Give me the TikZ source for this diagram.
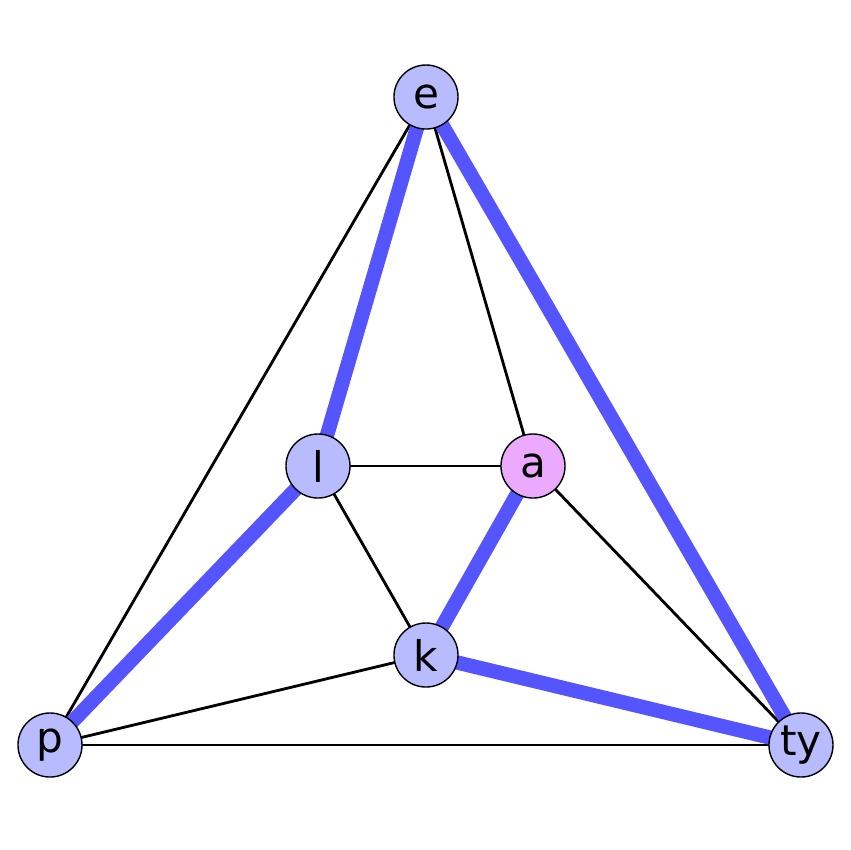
\documentclass[tikz,border=0pt]{standalone}
\usepackage{fontspec}
\setmainfont{DejaVu Sans}
\usetikzlibrary{backgrounds}
\definecolor{nodeblue}{RGB}{185,187,255}
\definecolor{nodepink}{RGB}{236,170,255}
\definecolor{edgeblue}{RGB}{85,85,255}
\begin{document}
\begin{tikzpicture}[x=0.01cm,y=-0.01cm,
  vert/.style={circle,draw=black,line width=0.4pt,fill=nodeblue,minimum size=0.64cm,inner sep=0pt,font=\fontsize{12}{14}\selectfont},
  thin edge/.style={draw=black,line width=0.8pt},
  hot edge/.style={draw=edgeblue,line width=4.1pt}]
\useasboundingbox (0,0) rectangle (850,850);
\node[vert] (e) at (426,97) {e};
\node[vert] (l) at (318,466) {l};
\node[vert,fill=nodepink] (a) at (533,466) {a};
\node[vert] (k) at (426,655) {k};
\node[vert] (p) at (50,745) {p};
\node[vert] (ty) at (801,745) {ty};
\begin{scope}[on background layer]
\draw[thin edge] (e.center) -- (p.center);
\draw[thin edge] (e.center) -- (a.center);
\draw[thin edge] (l.center) -- (a.center);
\draw[thin edge] (l.center) -- (k.center);
\draw[thin edge] (k.center) -- (p.center);
\draw[thin edge] (p.center) -- (ty.center);
\draw[thin edge] (a.center) -- (ty.center);
\draw[hot edge] (e.center) -- (l.center);
\draw[hot edge] (e.center) -- (ty.center);
\draw[hot edge] (l.center) -- (p.center);
\draw[hot edge] (a.center) -- (k.center);
\draw[hot edge] (k.center) -- (ty.center);
\end{scope}
\end{tikzpicture}
\end{document}
